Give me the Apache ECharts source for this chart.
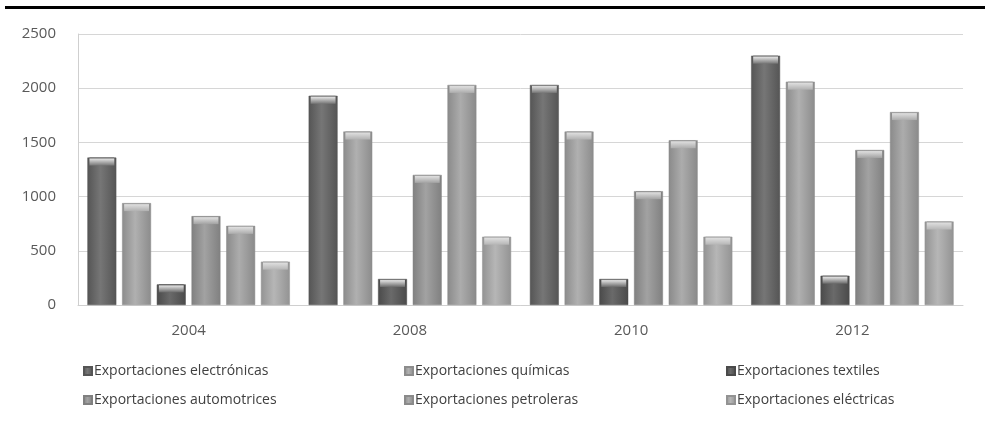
<!DOCTYPE html>
<html>
<head>
<meta charset="utf-8">
<script src="https://cdn.jsdelivr.net/npm/echarts@6/dist/echarts.min.js"></script>
<style>
  html, body { margin: 0; padding: 0; background: #fff; }
  #chart { width: 985px; height: 431px; }
</style>
</head>
<body>
<div id="chart"></div>
<script>
const years = ["2004", "2008", "2010", "2012"];
const seriesNames = [
  "Exportaciones electrónicas",
  "Exportaciones químicas",
  "Exportaciones textiles",
  "Exportaciones automotrices",
  "Exportaciones petroleras",
  "Exportaciones eléctricas",
];
const electronicas = [1360, 1930, 2030, 2300];
const quimicas = [940, 1600, 1600, 2060];
const textiles = [190, 240, 240, 270];
const automotrices = [820, 1200, 1050, 1430];
const petroleras = [730, 2030, 1520, 1780];
const electricas = [400, 630, 630, 770];
const yTicks = [0, 500, 1000, 1500, 2000, 2500];

const values = [electronicas, quimicas, textiles, automotrices, petroleras, electricas];
// base grey per series: [edge, centre]
const greys = [
  ["#555555", "#767676"],
  ["#8c8c8c", "#b0b0b0"],
  ["#4a4a4a", "#6a6a6a"],
  ["#808080", "#a2a2a2"],
  ["#8a8a8a", "#acacac"],
  ["#939393", "#b6b6b6"],
];

function bodyColor(g) {
  return new echarts.graphic.LinearGradient(0, 0, 1, 0, [
    { offset: 0, color: g[0] },
    { offset: 0.45, color: g[1] },
    { offset: 1, color: g[0] },
  ]);
}
function capColor(g) {
  return new echarts.graphic.LinearGradient(0, 0, 0, 1, [
    { offset: 0, color: g[0] },
    { offset: 0.2, color: "#dcdcdc" },
    { offset: 1, color: g[1] },
  ]);
}

const gapOpts = { barGap: "20%", barCategoryGap: "8.5%" };

const series = [];
values.forEach((v, i) => {
  series.push({
    name: seriesNames[i],
    type: "bar",
    data: v,
    ...gapOpts,
    itemStyle: { color: bodyColor(greys[i]), borderColor: greys[i][0], borderWidth: 0.5 },
  });
});
values.forEach((v, i) => {
  series.push({
    name: seriesNames[i],
    type: "pictorialBar",
    data: v,
    ...gapOpts,
    symbol: "rect",
    symbolPosition: "end",
    symbolSize: ["86%", 8],
    symbolOffset: [0, 0],
    z: 5,
    itemStyle: { color: capColor(greys[i]) },
  });
});

function legendCol(left, names) {
  return {
    left: left,
    top: 358,
    orient: "vertical",
    data: names,
    icon: "rect",
    itemWidth: 8,
    itemHeight: 8,
    itemGap: 13,
    textStyle: { fontFamily: "Open Sans", fontSize: 14, color: "#404040", padding: [0, 0, 0, -3], lineHeight: 16 },
  };
}

const chart = echarts.init(document.getElementById("chart"));
chart.setOption({
  backgroundColor: "#ffffff",
  animation: false,
  textStyle: { fontFamily: "Open Sans" },
  graphic: [
    { type: "rect", shape: { x: 5, y: 6, width: 985, height: 3 }, style: { fill: "#000" } },
  ],
  grid: { left: 78, right: 22, top: 34, bottom: 126 },
  legend: [
    legendCol(78, [seriesNames[0], seriesNames[3]]),
    legendCol(399, [seriesNames[1], seriesNames[4]]),
    legendCol(721, [seriesNames[2], seriesNames[5]]),
  ],
  xAxis: {
    type: "category",
    data: years,
    axisLine: { lineStyle: { color: "#cfcfcf", width: 1 } },
    axisTick: { show: false },
    axisLabel: { color: "#595959", fontSize: 15, margin: 18 },
  },
  yAxis: {
    type: "value",
    min: yTicks[0],
    max: yTicks[yTicks.length - 1],
    interval: 500,
    axisLine: { show: true, lineStyle: { color: "#cfcfcf" } },
    axisTick: { show: false },
    splitLine: { lineStyle: { color: "#d6d6d6" } },
    axisLabel: { color: "#595959", fontSize: 15, margin: 22, formatter: (v) => String(v) },
  },
  series: series,
});
</script>
</body>
</html>
